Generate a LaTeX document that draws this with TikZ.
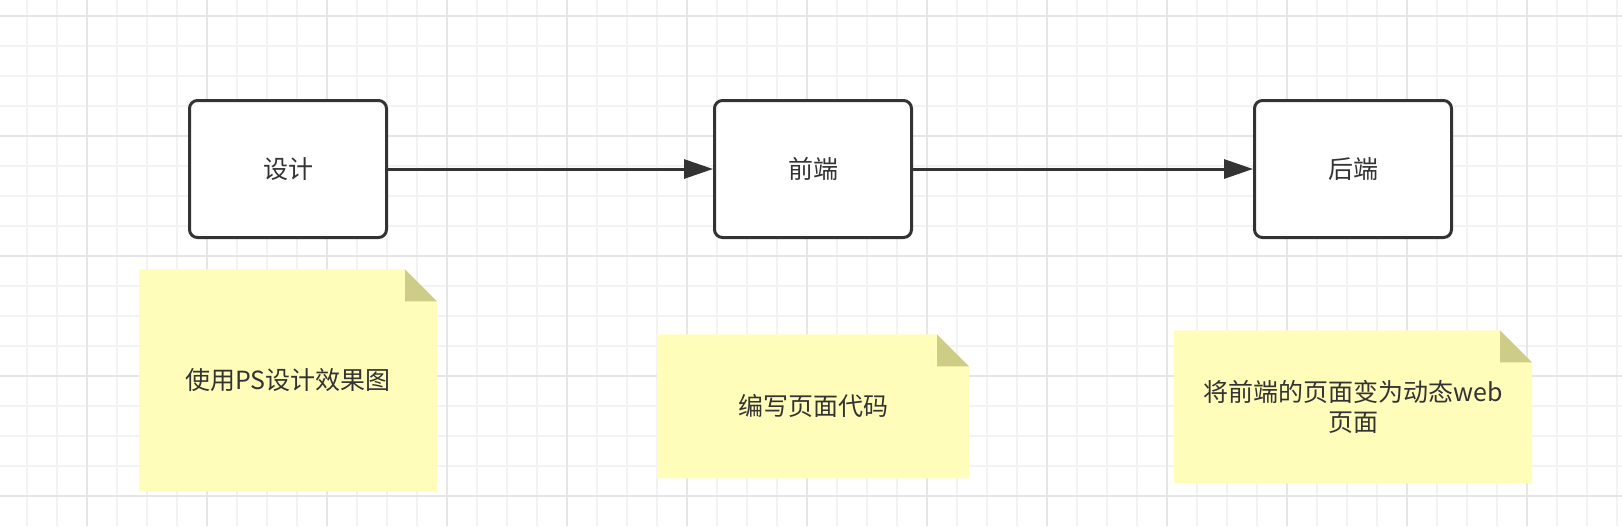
\documentclass[tikz,border=0pt]{standalone}
\usepackage{fontspec}
\newfontfamily\cjk{Noto Sans CJK SC}
\usepackage{tikz}
\usetikzlibrary{positioning,arrows.meta}
\definecolor{inkgray}{HTML}{333333}
\definecolor{gridminor}{HTML}{F3F3F3}
\definecolor{gridmajor}{HTML}{E6E6E6}
\definecolor{notefill}{HTML}{FFFDB9}
\definecolor{foldfill}{HTML}{CDCD88}

\begin{document}
\begin{tikzpicture}
[x=0.5pt, y=-0.5pt,
processnode/.style={rectangle, rounded corners=4pt, draw=inkgray, fill=white, line width=1.5pt, minimum width=98.5pt, minimum height=68.5pt, font=\cjk\fontsize{12.5}{15}\selectfont, text=inkgray},
notenode/.style={rectangle, inner sep=0pt, align=center, font=\cjk\fontsize{12.5}{15}\selectfont, text=inkgray,
  path picture={
    \fill[notefill] (path picture bounding box.south west) -- (path picture bounding box.north west)
      -- ([xshift=-16pt]path picture bounding box.north east) -- ([yshift=-16pt]path picture bounding box.north east)
      -- (path picture bounding box.south east) -- cycle;
    \fill[foldfill] ([xshift=-16pt]path picture bounding box.north east) -- ([xshift=-16pt,yshift=-16pt]path picture bounding box.north east)
      -- ([yshift=-16pt]path picture bounding box.north east) -- cycle;
  }},
flowarrow/.style={draw=inkgray, line width=1.5pt, -{Triangle[length=14.5pt, width=9.5pt]}},
]
% background and grid
\fill[white] (0,0) rectangle (1622,526);
\useasboundingbox (0,0) rectangle (1622,526);
\foreach \x in {27,57,...,1617} \draw[gridminor, line width=0.75pt] (\x,0) -- (\x,526);
\foreach \y in {16,46,...,520} \draw[gridminor, line width=0.75pt] (0,\y) -- (1622,\y);
\foreach \x in {87,207,...,1617} \draw[gridmajor, line width=1pt] (\x,0) -- (\x,526);
\foreach \y in {16,136,...,520} \draw[gridmajor, line width=1pt] (0,\y) -- (1622,\y);

\node[processnode] (S) at (288,169) {设计};
\node[processnode] (F) [right=162.5pt of S] {前端};
\node[processnode] (B) [right=170pt of F] {后端};

\node[notenode, minimum width=149pt, minimum height=111pt] (noteS) [below=15pt of S] {使用PS设计效果图};
\node[notenode, minimum width=156pt, minimum height=72pt] (noteF) [below=47.5pt of F] {编写页面代码};
\node[notenode, minimum width=179pt, minimum height=76.5pt] (noteB) [below=45.5pt of B] {将前端的页面变为动态web\\页面};

\draw[flowarrow] (S) -- (F);
\draw[flowarrow] (F) -- (B);
\end{tikzpicture}
\end{document}
